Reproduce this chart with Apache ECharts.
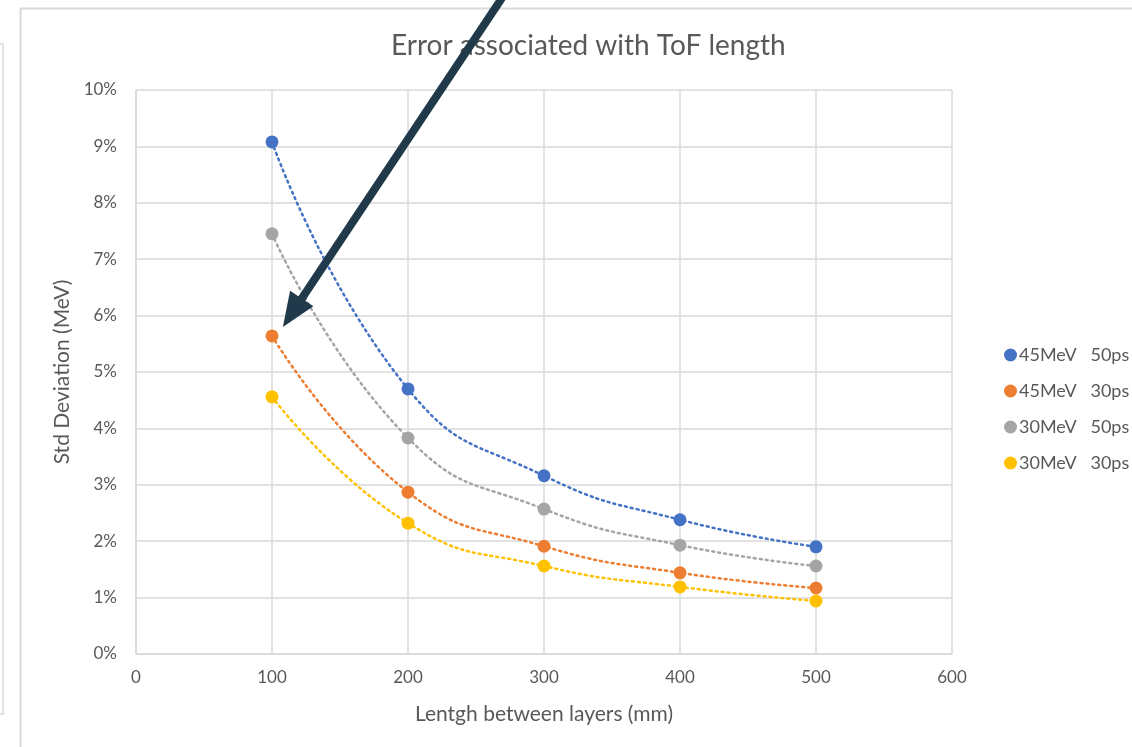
<!DOCTYPE html>
<html>
<head>
<meta charset="utf-8">
<title>Error associated with ToF length</title>
<script src="https://cdn.jsdelivr.net/npm/echarts@6/dist/echarts.min.js"></script>
<style>
    html, body { margin: 0; padding: 0; background: #fff; }
    #chart-tof { width: 1132px; height: 747px; }
</style>
</head>
<body>
<div id="chart-tof"></div>
<script>
// 层间距离 (mm)
var lengths = [100, 200, 300, 400, 500];
// 标准差 (%)
var e45_50 = [9.08, 4.70, 3.16, 2.38, 1.90];
var e45_30 = [5.64, 2.87, 1.91, 1.44, 1.17];
var e30_50 = [7.45, 3.83, 2.57, 1.93, 1.56];
var e30_30 = [4.56, 2.32, 1.56, 1.19, 0.94];
var seriesNames = ['45MeV   50ps', '45MeV   30ps', '30MeV   50ps', '30MeV   30ps'];
var seriesColors = ['#4472C4', '#ED7D31', '#A5A5A5', '#FFC000'];
// 箭头起点/终点 (数据坐标)
var arrowFrom = [271, 11.7];
var arrowTo = [108, 5.8];

var FONT = 'Lato, "Open Sans", sans-serif';
var GRAY_TEXT = '#595959';
var GRID_LINE = '#d9d9d9';

function toPairs(xs, ys) {
    var arr = new Array();
    for (var i = 0; i < xs.length; i++) {
        arr[arr.length] = [xs[i], ys[i]];
    }
    return arr;
}

function buildSeries() {
    var data = [e45_50, e45_30, e30_50, e30_30];
    var list = [];
    for (var i = 0; i < data.length; i++) {
        list.push({
            name: seriesNames[i],
            type: 'line',
            smooth: 0.5,
            symbol: 'circle',
            symbolSize: 13,
            itemStyle: { color: seriesColors[i] },
            lineStyle: {
                color: seriesColors[i],
                width: 2.5,
                type: [2, 4],
                cap: 'round'
            },
            data: toPairs(lengths, data[i])
        });
    }
    return list;
}

function createChart() {
    var option = {
        animation: false,
        backgroundColor: '#fff',
        title: {
            text: 'Error associated with ToF length',
            left: 386,
            top: 27,
            textStyle: {
                fontFamily: FONT,
                fontWeight: 'normal',
                fontSize: 28,
                color: GRAY_TEXT
            }
        },
        grid: {
            left: 136,
            top: 90,
            width: 816,
            height: 564
        },
        legend: {
            orient: 'vertical',
            left: 999,
            top: 341,
            icon: 'circle',
            itemWidth: 13,
            itemHeight: 13,
            itemGap: 18,
            data: seriesNames,
            textStyle: {
                fontFamily: FONT,
                fontSize: 18,
                color: GRAY_TEXT,
                padding: [0, 0, 0, -3]
            }
        },
        xAxis: {
            type: 'value',
            min: 0,
            max: 600,
            interval: 100,
            name: 'Lentgh between layers (mm)',
            nameLocation: 'middle',
            nameGap: 50,
            nameTextStyle: { fontFamily: FONT, fontSize: 21, color: GRAY_TEXT },
            axisLine: { lineStyle: { color: GRID_LINE, width: 1.5 } },
            axisTick: { show: false },
            axisLabel: { fontFamily: FONT, fontSize: 17, color: GRAY_TEXT, margin: 15 },
            splitLine: { show: true, lineStyle: { color: GRID_LINE, width: 1.5 } }
        },
        yAxis: {
            type: 'value',
            min: 0,
            max: 10,
            interval: 1,
            name: 'Std Deviation (MeV)',
            nameLocation: 'middle',
            nameGap: 62,
            nameTextStyle: { fontFamily: FONT, fontSize: 21, color: GRAY_TEXT },
            axisLine: { show: true, lineStyle: { color: GRID_LINE, width: 1.5 } },
            axisTick: { show: false },
            axisLabel: { fontFamily: FONT, fontSize: 17, color: GRAY_TEXT, margin: 19, formatter: '{value}%' },
            splitLine: { show: true, lineStyle: { color: GRID_LINE, width: 1.5 } }
        },
        series: buildSeries()
    };
    var dom = document.getElementById('chart-tof');
    var echart = echarts.init(dom, null, { renderer: 'canvas' });
    echart.setOption(option, true);
    drawDecorations(echart);
}

// 外框和箭头
function drawDecorations(echart) {
    var p0 = echart.convertToPixel({ gridIndex: 0 }, arrowFrom);
    var p1 = echart.convertToPixel({ gridIndex: 0 }, arrowTo);
    var dx = p1[0] - p0[0], dy = p1[1] - p0[1];
    var len = Math.sqrt(dx * dx + dy * dy);
    var ux = dx / len, uy = dy / len;
    var headLen = 34, headHalf = 14;
    var bx = p1[0] - ux * headLen, by = p1[1] - uy * headLen;
    var nx = -uy, ny = ux;
    echart.setOption({
        graphic: [
            {
                type: 'rect',
                shape: { x: 20.5, y: 8.5, width: 1200, height: 800 },
                style: { fill: 'none', stroke: '#d9d9d9', lineWidth: 2 },
                silent: true
            },
            {
                type: 'polyline',
                shape: { points: [[-2, 44], [3, 44], [3, 714], [-2, 714]] },
                style: { fill: 'none', stroke: '#d9d9d9', lineWidth: 1.5 },
                silent: true
            },
            {
                type: 'line',
                shape: { x1: p0[0], y1: p0[1], x2: bx + ux * 2, y2: by + uy * 2 },
                style: { stroke: '#203A4C', lineWidth: 8 },
                z: 100,
                silent: true
            },
            {
                type: 'polygon',
                shape: { points: [[p1[0], p1[1]], [bx + nx * headHalf, by + ny * headHalf], [bx - nx * headHalf, by - ny * headHalf]] },
                style: { fill: '#203A4C' },
                z: 100,
                silent: true
            }
        ]
    });
}

createChart();
</script>
</body>
</html>
